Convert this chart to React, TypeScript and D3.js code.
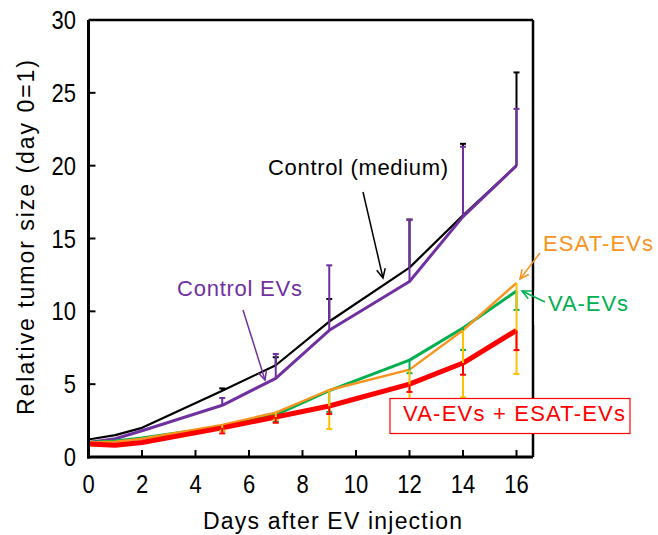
import React from "react";
import * as d3 from "d3";

const days = [0, 1, 2, 5, 7, 9, 12, 14, 16];
const xTicks = [0, 2, 4, 6, 8, 10, 12, 14, 16];
const yTicks = [0, 5, 10, 15, 20, 25, 30];

// means
const controlMedium = [1.2, 1.5, 2.0, 4.55, 6.3, 9.3, 13.0, 16.6, 20.0];
const controlEVs = [1.0, 1.25, 1.8, 3.55, 5.4, 8.7, 12.05, 16.5, 20.0];
const esatEVs = [1.0, 1.05, 1.25, 2.2, 3.05, 4.6, 6.0, 8.7, 11.95];
const vaEVs = [1.0, 1.1, 1.3, 2.1, 2.9, 4.55, 6.65, 8.85, 11.4];
const vaEsatEVs = [0.9, 0.8, 1.0, 2.0, 2.75, 3.5, 5.0, 6.45, 8.7];

// error bar lengths (drawn up for controls, down for treated)
const controlMediumErr = [0, 0, 0, 0.16, 0.55, 1.55, 3.3, 4.9, 6.4];
const controlEVsErr = [0, 0, 0, 0.5, 1.67, 4.46, 4.24, 4.8, 3.9];
const esatEVsErr = [0, 0, 0, 0.4, 0.5, 2.68, 2.5, 4.6, 6.25];
const vaEVsErr = [0, 0, 0, 0.3, 0.5, 1.45, 0.9, 1.5, 1.3];
const vaEsatEVsErr = [0, 0, 0, 0.38, 0.4, 0.55, 0.53, 0.8, 1.36];

const W = 658;
const H = 535;
const left = 88.5;
const right = 533;
const top = 20;
const bottom = 457;

const font = "'Liberation Sans', Arial, sans-serif";

// tick label text, a bit taller than wide like the original
function Num({ x, y, anchor, children }: { x: number; y: number; anchor: string; children: any }) {
  return (
    <text transform={`translate(${x},${y}) scale(1,1.15)`} textAnchor={anchor} fontSize={22}>
      {children}
    </text>
  );
}

export default function App() {
  const x = d3.scaleLinear().domain([0, 16]).range([left, 516.5]);
  const y = d3.scaleLinear().domain([0, 30]).range([bottom, top]);
  const line = d3
    .line<number>()
    .x((_, i) => x(days[i]))
    .y((v) => y(v));

  const series = [
    { name: "black", vals: controlMedium, err: controlMediumErr, dir: 1, color: "#000000", errColor: "#000000", w: 2.2 },
    { name: "purple", vals: controlEVs, err: controlEVsErr, dir: 1, color: "#7030A0", errColor: "#7030A0", w: 3 },
    { name: "green", vals: vaEVs, err: vaEVsErr, dir: -1, color: "#00B050", errColor: "#00B050", w: 3 },
    { name: "orange", vals: esatEVs, err: esatEVsErr, dir: -1, color: "#F7941D", errColor: "#FFC000", w: 2.4 },
    { name: "red", vals: vaEsatEVs, err: vaEsatEVsErr, dir: -1, color: "#FF0000", errColor: "#FF0000", w: 5 },
  ];

  const errBars = (s: typeof series[0]) =>
    s.vals.map((v, i) => {
      if (!s.err[i]) return null;
      const cx = x(days[i]);
      const end = y(v + s.dir * s.err[i]);
      return (
        <g key={s.name + i} stroke={s.errColor} strokeWidth={2}>
          <line x1={cx} x2={cx} y1={y(v)} y2={end} />
          <line x1={cx - 3} x2={cx + 3} y1={end} y2={end} />
        </g>
      );
    });

  const arrow = (x1: number, y1: number, x2: number, y2: number, color: string) => {
    const a = Math.atan2(y2 - y1, x2 - x1);
    const L = 10;
    const s = 0.45;
    const p1 = [x2 - L * Math.cos(a - s), y2 - L * Math.sin(a - s)];
    const p2 = [x2 - L * Math.cos(a + s), y2 - L * Math.sin(a + s)];
    return (
      <g stroke={color} strokeWidth={1.5} fill="none">
        <line x1={x1} y1={y1} x2={x2} y2={y2} />
        <polyline points={`${p1[0]},${p1[1]} ${x2},${y2} ${p2[0]},${p2[1]}`} />
      </g>
    );
  };

  return (
    <svg width={W} height={H} style={{ position: "absolute", left: 0, top: 0 }} fontFamily={font}>
      <rect width={W} height={H} fill="#fff" />

      {/* lines */}
      {series.map((s) => (
        <path key={s.name} d={line(s.vals) || ""} fill="none" stroke={s.color} strokeWidth={s.w} strokeLinejoin="round" />
      ))}
      {series.map((s) => errBars(s))}

      {/* frame */}
      <g stroke="#000" strokeWidth={3} fill="none">
        <line x1={left} x2={right} y1={top} y2={top} strokeWidth={2.5} />
        <line x1={right} x2={right} y1={top} y2={bottom} strokeWidth={2.5} />
        <line x1={left} x2={left} y1={top} y2={bottom + 1.5} />
        <line x1={left - 1.5} x2={right} y1={bottom} y2={bottom} />
      </g>
      {xTicks.map((t) => (
        <g key={"x" + t}>
          {t > 0 && <line x1={x(t)} x2={x(t)} y1={bottom} y2={bottom - 7} stroke="#000" strokeWidth={2} />}
          <Num x={x(t)} y={493} anchor="middle">
            {t}
          </Num>
        </g>
      ))}
      {yTicks.map((t) => (
        <g key={"y" + t}>
          {t > 0 && t < 30 && <line x1={left} x2={left + 7} y1={y(t)} y2={y(t)} stroke="#000" strokeWidth={2} />}
          <Num x={76} y={y(t) + 9} anchor="end">
            {t}
          </Num>
        </g>
      ))}

      <text x={203} y={529} fontSize={23} textLength={259} lengthAdjust="spacing">
        Days after EV injection
      </text>
      <text transform="translate(34,415) rotate(-90)" fontSize={23} textLength={355} lengthAdjust="spacing">
        Relative tumor size (day 0=1)
      </text>

      {/* annotations */}
      <text x={268} y={175} fontSize={22} textLength={180} lengthAdjust="spacing">
        Control (medium)
      </text>
      {arrow(363, 192, 383, 278, "#000")}

      <text x={177} y={296} fontSize={22} fill="#7030A0" textLength={125} lengthAdjust="spacing">
        Control EVs
      </text>
      {arrow(243, 310, 265, 380, "#7030A0")}

      <text x={543} y={251} fontSize={22} fill="#F7941D" textLength={110} lengthAdjust="spacing">
        ESAT-EVs
      </text>
      {arrow(540, 253, 520, 279, "#F7941D")}

      <rect x={534.3} y={290} width={112} height={35} fill="#fff" />
      <text x={548} y={311} fontSize={22} fill="#00B050" textLength={80} lengthAdjust="spacing">
        VA-EVs
      </text>
      {arrow(545, 302, 522, 291, "#00B050")}

      <rect x={390} y={398.5} width={240} height={35} fill="#fff" stroke="#FF0000" strokeWidth={1.2} />
      <text x={403} y={421} fontSize={22} fill="#FF0000" textLength={222} lengthAdjust="spacing">
        VA-EVs + ESAT-EVs
      </text>
    </svg>
  );
}
